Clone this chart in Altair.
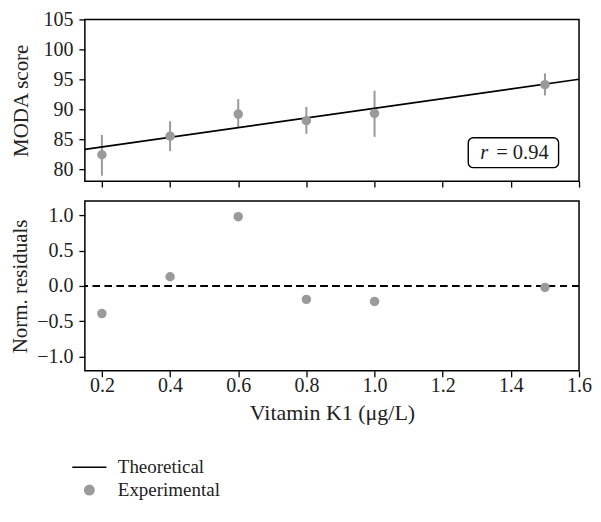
import altair as alt
import pandas as pd

# ---- data ----
conc = [0.2, 0.4, 0.6, 0.8, 1.0, 1.5]
moda = [82.4, 85.5, 89.2, 88.1, 89.3, 94.1]
err_lo = [78.9, 83.0, 87.0, 85.9, 85.4, 92.3]
err_hi = [85.7, 88.0, 91.7, 90.4, 93.1, 96.0]
resid = [-0.39, 0.13, 0.98, -0.19, -0.22, -0.02]
theo_x = [0.15, 1.6]
theo_y = [83.3, 95.0]
x_ticks = [0.2, 0.4, 0.6, 0.8, 1.0, 1.2, 1.4, 1.6]
top_ticks = [80, 85, 90, 95, 100, 105]
bot_ticks = [-1.0, -0.5, 0.0, 0.5, 1.0]
series = ["Theoretical", "Experimental"]
ann_box = {"x": [1.275], "x2": [1.54], "y": [80.25], "y2": [85.25]}
ann_r = {"x": [1.31], "y": [82.75], "t": ["r"]}
ann_v = {"x": [1.357], "y": [82.75], "t": ["= 0.94"]}

FONT = "Liberation Serif"
GRAY = "#9a9a9a"

exp_df = pd.DataFrame({"conc": conc, "moda": moda, "lo": err_lo, "hi": err_hi,
                       "series": "Experimental"})
theo_df = pd.DataFrame({"conc": theo_x, "moda": theo_y, "series": "Theoretical"})
res_df = pd.DataFrame({"conc": conc, "resid": resid})

xscale = alt.Scale(domain=[0.15, 1.6], nice=False, zero=False)
top_yscale = alt.Scale(domain=[78, 105], nice=False, zero=False)
bot_yscale = alt.Scale(domain=[-1.2, 1.2], nice=False, zero=False)
color_scale = alt.Scale(domain=series, range=["black", GRAY])
shape_scale = alt.Scale(domain=series, range=["M-3.6,0H3.6", "circle"])

legend = alt.Legend(title=None, orient="none", legendX=-5, legendY=439,
                    direction="vertical", labelFont=FONT, labelFontSize=19,
                    labelColor="#222", symbolSize=90, symbolStrokeWidth=1.5,
                    rowPadding=3, labelOffset=19)

top_x = alt.X("conc:Q", scale=xscale,
              axis=alt.Axis(values=x_ticks, labels=False, title=None, tickCount=20))
top_yaxis = alt.Axis(values=top_ticks, title="MODA score", format="d", tickCount=20,
                     labelOverlap=False, labelFlush=False, titlePadding=11)

line = alt.Chart(theo_df).mark_line(strokeWidth=1.6).encode(
    x=top_x, y=alt.Y("moda:Q", scale=top_yscale, axis=top_yaxis),
    color=alt.Color("series:N", scale=color_scale, legend=legend),
)
bars = alt.Chart(exp_df).mark_rule(color=GRAY, strokeWidth=2).encode(
    x=top_x, y=alt.Y("lo:Q", scale=top_yscale, axis=top_yaxis), y2="hi:Q")
pts = alt.Chart(exp_df).mark_point(filled=True, opacity=1, size=90).encode(
    x=top_x, y=alt.Y("moda:Q", scale=top_yscale, axis=top_yaxis),
    color=alt.Color("series:N", scale=color_scale, legend=legend),
    shape=alt.Shape("series:N", scale=shape_scale, legend=legend),
)
box = alt.Chart(pd.DataFrame(ann_box)).mark_rect(
    fill="white", stroke="black", strokeWidth=1.4, cornerRadius=5).encode(
    x="x:Q", x2="x2:Q", y="y:Q", y2="y2:Q")
txt_r = alt.Chart(pd.DataFrame(ann_r)).mark_text(
    font=FONT, fontSize=20.5, fontStyle="italic", align="left", baseline="middle",
    color="#222").encode(x="x:Q", y="y:Q", text="t:N")
txt_v = alt.Chart(pd.DataFrame(ann_v)).mark_text(
    font=FONT, fontSize=20.5, align="left", baseline="middle",
    color="#222").encode(x="x:Q", y="y:Q", text="t:N")

top = alt.layer(bars, line, pts, box, txt_r, txt_v).properties(width=495, height=162)

bot_x = alt.X("conc:Q", scale=xscale,
              axis=alt.Axis(values=x_ticks, format=".1f", title="Vitamin K1 (μg/L)",
                            labelPadding=-1, titlePadding=7, titleFontSize=22,
                            tickCount=20, labelOverlap=False, labelFlush=False))
zero = alt.Chart(res_df).mark_rule(color="black", strokeWidth=1.6, strokeDash=[7, 5]).encode(
    y=alt.datum(0, scale=bot_yscale))
rpts = alt.Chart(res_df).mark_circle(color=GRAY, opacity=1, size=90).encode(
    x=bot_x,
    y=alt.Y("resid:Q", scale=bot_yscale,
            axis=alt.Axis(values=bot_ticks, format=".1f", title="Norm. residuals",
                          tickCount=20, labelOverlap=False, labelFlush=False,
                          titlePadding=6)),
)
bottom = alt.layer(zero, rpts).properties(width=495, height=170)

chart = alt.vconcat(top, bottom, spacing=11).resolve_scale(y="independent").properties(
    padding={"left": 0, "top": 0, "right": 0, "bottom": 5}
).configure_view(stroke="black", strokeWidth=1.5).configure_axis(
    domain=False, grid=False, ticks=True, tickColor="black", tickWidth=1.3, tickSize=6,
    labelFont=FONT, labelFontSize=20, labelColor="#222", labelPadding=6,
    titleFont=FONT, titleFontSize=21, titleFontWeight="normal", titleColor="#222",
)

chart.save("out.html", embed_options={"renderer": "svg", "actions": False})
